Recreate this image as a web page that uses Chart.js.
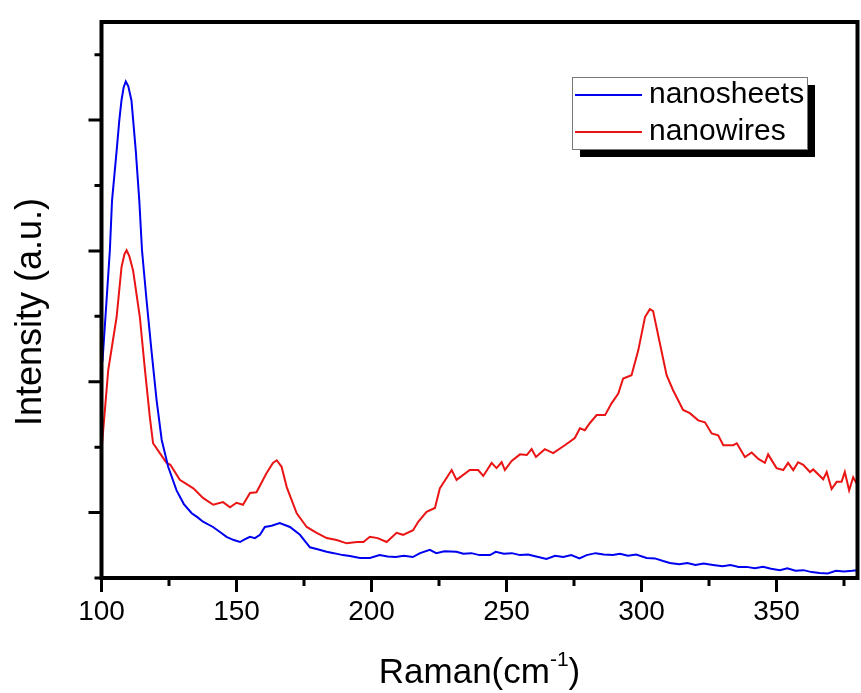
<!DOCTYPE html>
<html lang="en">

<head>
    <meta charset="UTF-8">
    <title>Raman spectra</title>
    <script src="https://cdn.jsdelivr.net/npm/chart.js"></script>
    <style>
        html, body { margin: 0; padding: 0; background: #fff; }
        .chart-container { position: relative; width: 861px; height: 693px; }
    </style>
</head>

<body>
    <div class="chart-container">
        <canvas id="ramanChart"></canvas>
    </div>

    <script>
        // series (x = Raman shift in cm-1, y = intensity a.u.)
        const seriesNames = ['nanosheets', 'nanowires'];
        const seriesColors = ['#0000f0', '#ea1414'];

        const ramanSheets = [100, 100.4, 101.8, 103.1, 103.9, 105.6, 106.6, 107.4, 108.2, 109, 109.9, 111.1, 112.7, 114, 115, 116.7, 118.5, 120.4, 122.3,
            124.7, 127.8, 130.5, 133.4, 135.5, 137.6, 141.3, 144, 146.3, 149, 151.3, 153, 155, 156.8, 158.7, 160.5, 163, 166, 169.8,
            173.5, 177.2, 180, 183.4, 186, 189.4, 192, 195.7, 199.4, 203, 206, 209, 212, 215.3, 218, 221.6, 224, 227, 231.5, 234,
            237, 240, 243.9, 246, 249, 252, 255, 258, 261, 264.8, 268, 271, 274, 277, 279.7, 283, 286, 289.4, 292, 295, 298, 301.9,
            305, 308, 310.5, 314, 317, 320, 323, 326.5, 330, 333, 336, 338.9, 342, 345, 348, 351.3, 354, 357, 360, 363, 366, 369,
            372, 375, 378, 380];
        const intensitySheets = [3250, 3330, 4200, 5010, 5770, 6530, 7000, 7300, 7500, 7590, 7520, 7300, 6530, 5770, 5010, 4240, 3480, 2720, 2110,
            1700, 1340, 1130, 990, 930, 860, 780, 700, 630, 580, 550, 590, 630, 610, 660, 780, 800, 840, 780,
            660, 470, 440, 400, 380, 350, 335, 305, 305, 350, 330, 320, 340, 320, 380, 430, 380, 410, 400, 370,
            380, 350, 350, 400, 370, 380, 350, 360, 330, 290, 340, 320, 350, 300, 350, 380, 360, 350, 370, 340, 360, 305,
            300, 260, 230, 210, 230, 200, 220, 200, 180, 200, 170, 170, 150, 170, 140, 120, 150, 110, 120, 90, 76, 70,
            110, 100, 110, 120];

        const ramanWires = [100, 102.5, 105.6, 107.4, 108.5, 109.3, 110.3, 111.7, 114.2, 116, 117.9, 119.1, 121.6, 124.1, 125.5, 129, 134, 137.7,
            141.4, 145, 147.6, 150, 152.4, 155, 157.4, 161.1, 163.5, 164.9, 166.7, 168.6, 172.3, 176, 179.7, 183.4, 187.1, 190.8, 194.6,
            197, 199.4, 202.3, 205.6, 209.3, 211.7, 215.4, 217.3, 220.4, 223.5, 225.3, 229.7, 231.5, 236.4, 239.5, 241.4, 244.5,
            246.3, 248.2, 249.4, 251.9, 255, 257.5, 259.3, 260.9, 264.2, 267.3, 271.6, 275.3, 277.2, 279, 280.9, 283.4, 286.5,
            288.9, 291.4, 293.2, 296.3, 298.8, 301.3, 303.1, 304.3, 306.8, 309.3, 311.7, 315.4, 317.9, 321, 323.5, 326, 328.4,
            330.3, 334, 335.3, 338.3, 340.8, 343.3, 345.7, 346.9, 350, 352.5, 354.3, 356.2, 358, 359.9, 362.4, 363.6, 367.3,
            368.6, 370.4, 372.3, 374.1, 375.3, 376.9, 378.4, 380];
        const intensityWires = [1950, 3180, 3990, 4750, 4950, 5010, 4920, 4700, 3990, 3220, 2460, 2060, 1910, 1760, 1730, 1500, 1370, 1220,
            1120, 1160, 1080, 1150, 1120, 1300, 1310, 1600, 1760, 1800, 1700, 1390, 990, 780, 690, 610, 580, 530, 550,
            550, 630, 610, 550, 690, 660, 730, 860, 1010, 1070, 1370, 1650, 1500, 1650, 1650, 1560, 1760,
            1680, 1770, 1650, 1790, 1890, 1880, 1970, 1850, 1970, 1910, 2030, 2140, 2290, 2260, 2370, 2490, 2490,
            2670, 2820, 3050, 3100, 3480, 3990, 4110, 4080, 3590, 3100, 2870, 2570, 2520, 2410, 2380, 2210, 2180,
            2030, 2030, 2060, 1850, 1920, 1820, 1760, 1890, 1680, 1650, 1760, 1650, 1770, 1730, 1620, 1660, 1510,
            1620, 1360, 1470, 1470, 1620, 1340, 1540, 1420];

        const xMajorTicks = [100, 150, 200, 250, 300, 350];
        const xMinorTicks = [125, 175, 225, 275, 325, 375];
        const yMajorTicks = [1000, 3000, 5000, 7000];
        const yMinorTicks = [0, 2000, 4000, 6000, 8000];

        const fontFamily = '"Liberation Sans", Arial, sans-serif';

        function toPoints(xs, ys) {
            return xs.map((x, i) => ({ x: x, y: ys[i] }));
        }

        // frame, tick marks, axis titles and the boxed legend
        const decorPlugin = {
            id: 'decor',
            afterDraw(chart) {
                const ctx = chart.ctx;
                const area = chart.chartArea;
                const xs = chart.scales.x;
                const ys = chart.scales.y;
                ctx.save();

                ctx.strokeStyle = '#000';
                ctx.lineWidth = 4;
                ctx.strokeRect(area.left, area.top, area.right - area.left, area.bottom - area.top);

                ctx.lineWidth = 3;
                ctx.beginPath();
                xMajorTicks.forEach(v => {
                    const px = xs.getPixelForValue(v);
                    ctx.moveTo(px, area.bottom); ctx.lineTo(px, area.bottom + 14);
                });
                xMinorTicks.forEach(v => {
                    const px = xs.getPixelForValue(v);
                    ctx.moveTo(px, area.bottom); ctx.lineTo(px, area.bottom + 8);
                });
                yMajorTicks.forEach(v => {
                    const py = ys.getPixelForValue(v);
                    ctx.moveTo(area.left, py); ctx.lineTo(area.left - 13, py);
                });
                yMinorTicks.forEach(v => {
                    const py = ys.getPixelForValue(v);
                    ctx.moveTo(area.left, py); ctx.lineTo(area.left - 7, py);
                });
                ctx.stroke();

                // y title
                ctx.fillStyle = '#000';
                ctx.save();
                ctx.translate(31, (area.top + area.bottom) / 2 + 12);
                ctx.rotate(-Math.PI / 2);
                ctx.font = '36px ' + fontFamily;
                ctx.textAlign = 'center';
                ctx.textBaseline = 'middle';
                ctx.fillText('Intensity (a.u.)', 0, 0);
                ctx.restore();

                // x title with superscript
                const big = '35px ' + fontFamily;
                const small = '21px ' + fontFamily;
                ctx.textBaseline = 'alphabetic';
                ctx.textAlign = 'left';
                ctx.font = big;
                const w1 = ctx.measureText('Raman(cm').width;
                const w3 = ctx.measureText(')').width;
                ctx.font = small;
                const w2 = ctx.measureText('-1').width;
                const cx = (area.left + area.right) / 2;
                let tx = cx - (w1 + w2 + w3) / 2;
                const base = 683;
                ctx.font = big;
                ctx.fillText('Raman(cm', tx, base);
                tx += w1;
                ctx.font = small;
                ctx.fillText('-1', tx, base - 17);
                tx += w2;
                ctx.font = big;
                ctx.fillText(')', tx, base);

                // legend box with drop shadow
                const lx = 572, ly = 77, lw = 235, lh = 72;
                ctx.fillStyle = '#000';
                ctx.fillRect(lx + 8, ly + 8, lw, lh);
                ctx.fillStyle = '#fff';
                ctx.fillRect(lx, ly, lw, lh);
                ctx.strokeStyle = '#777';
                ctx.lineWidth = 1;
                ctx.strokeRect(lx + 0.5, ly + 0.5, lw, lh);
                ctx.font = '30px ' + fontFamily;
                ctx.textBaseline = 'middle';
                chart.data.datasets.forEach((ds, i) => {
                    const rowY = ly + 18 + i * 37;
                    ctx.strokeStyle = ds.borderColor;
                    ctx.lineWidth = 2;
                    ctx.beginPath();
                    ctx.moveTo(lx + 3, rowY);
                    ctx.lineTo(lx + 70, rowY);
                    ctx.stroke();
                    ctx.fillStyle = '#000';
                    ctx.fillText(ds.label, lx + 77, rowY);
                });

                ctx.restore();
            }
        };

        const ctx = document.getElementById('ramanChart').getContext('2d');
        new Chart(ctx, {
            type: 'line',
            data: {
                datasets: [
                    {
                        label: seriesNames[0],
                        data: toPoints(ramanSheets, intensitySheets),
                        borderColor: seriesColors[0],
                        borderWidth: 2
                    },
                    {
                        label: seriesNames[1],
                        data: toPoints(ramanWires, intensityWires),
                        borderColor: seriesColors[1],
                        borderWidth: 2
                    }
                ]
            },
            options: {
                responsive: true,
                maintainAspectRatio: false,
                animation: false,
                elements: {
                    point: { radius: 0 },
                    line: { tension: 0 }
                },
                layout: {
                    padding: { top: 22, right: 3.5, left: 0, bottom: 0 }
                },
                plugins: {
                    legend: { display: false },
                    tooltip: { enabled: false }
                },
                scales: {
                    x: {
                        type: 'linear',
                        min: 100,
                        max: 380,
                        afterBuildTicks: (scale) => {
                            scale.ticks = xMajorTicks.map(v => ({ value: v }));
                        },
                        ticks: {
                            color: '#000',
                            font: { family: fontFamily, size: 28 },
                            padding: 17,
                            maxRotation: 0,
                            autoSkip: false
                        },
                        grid: { display: false, drawTicks: false },
                        border: { display: false },
                        afterFit: (scale) => { scale.height = 115; }
                    },
                    y: {
                        min: 0,
                        max: 8500,
                        ticks: { display: false },
                        grid: { display: false, drawTicks: false },
                        border: { display: false },
                        afterFit: (scale) => { scale.width = 101.5; }
                    }
                }
            },
            plugins: [decorPlugin]
        });
    </script>
</body>

</html>
